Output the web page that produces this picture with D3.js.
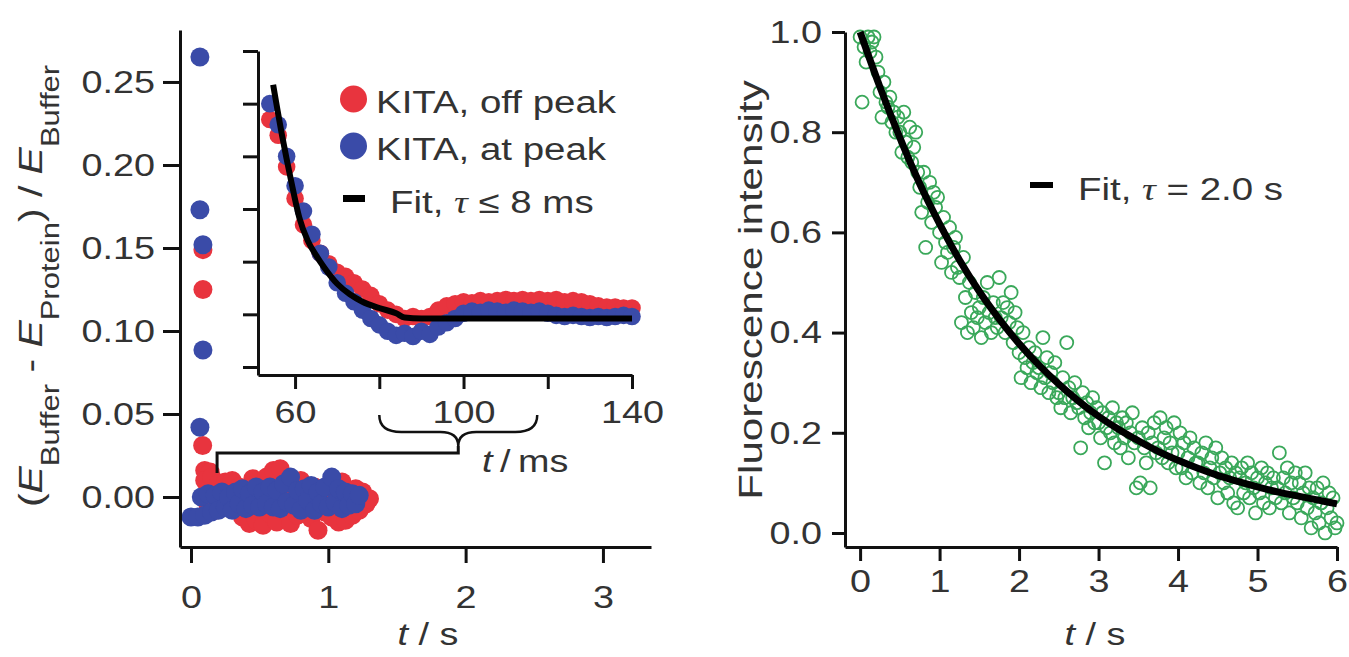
<!DOCTYPE html>
<html>
<head>
<meta charset="utf-8">
<script src="https://cdn.jsdelivr.net/npm/d3@7"></script>
<style>
body { margin: 0; background: #fff; }
svg { display: block; font-family: "Liberation Sans", Arial, sans-serif; }
.axis path, .axis line { stroke: #111; stroke-width: 3; }
.axis text { font-size: 32px; fill: #333; }
</style>
</head>
<body>
<div id="chart"></div>
<script>
// ---- left panel, main plot (t in s, relative change) ----
const mainTicksX = [0, 1, 2, 3];
const mainTicksY = [0, 0.05, 0.10, 0.15, 0.20, 0.25];

// KITA, off peak (red)
const offPeakMain = [
    [0.087, 0.149], [0.087, 0.125], [0.085, 0.031], [0.10, 0.016], [0.14, 0.015],
    [0.10, 0.010], [0.125, -0.005], [0.15, 0.012], [0.175, -0.008], [0.20, 0.008],
    [0.225, 0.004], [0.25, 0.009], [0.275, -0.006], [0.30, 0.010], [0.325, -0.004],
    [0.35, 0.006], [0.375, -0.012], [0.40, 0.003], [0.425, -0.016], [0.45, 0.011],
    [0.475, -0.014], [0.50, 0.004], [0.525, -0.017], [0.55, 0.012], [0.575, -0.010],
    [0.60, 0.016], [0.625, -0.015], [0.65, 0.017], [0.675, -0.006], [0.70, 0.008],
    [0.725, -0.016], [0.75, 0.005], [0.775, -0.011], [0.80, 0.010], [0.825, -0.008],
    [0.85, 0.003], [0.875, -0.013], [0.90, 0.006], [0.925, -0.020], [0.95, 0.002],
    [0.975, -0.009], [1.00, 0.007], [1.025, -0.012], [1.05, 0.004], [1.075, -0.015],
    [1.10, 0.009], [1.125, -0.014], [1.15, 0.002], [1.175, -0.011], [1.20, 0.005],
    [1.225, -0.008], [1.25, 0.003], [1.275, -0.004], [1.30, -0.001]
];

// KITA, at peak (blue)
const atPeakMain = [
    [0.065, 0.265], [0.065, 0.173], [0.087, 0.152], [0.087, 0.0886], [0.065, 0.042], [0.0, -0.012],
    [0.05, -0.012], [0.075, 0.000], [0.10, -0.011], [0.125, 0.002], [0.15, -0.009],
    [0.175, 0.001], [0.20, -0.008], [0.225, 0.003], [0.25, -0.006], [0.275, 0.000],
    [0.30, -0.008], [0.325, 0.003], [0.35, -0.004], [0.375, 0.005], [0.40, -0.007],
    [0.425, 0.002], [0.45, -0.005], [0.475, 0.006], [0.50, -0.006], [0.525, 0.003],
    [0.55, -0.004], [0.575, 0.006], [0.60, -0.006], [0.625, 0.004], [0.65, -0.007],
    [0.675, 0.008], [0.70, -0.003], [0.725, 0.012], [0.75, -0.005], [0.775, 0.004],
    [0.80, -0.008], [0.825, 0.005], [0.85, -0.002], [0.875, 0.007], [0.90, -0.008],
    [0.925, 0.003], [0.95, -0.004], [0.975, 0.006], [1.00, -0.006], [1.025, 0.012],
    [1.05, -0.003], [1.075, 0.005], [1.10, -0.007], [1.125, 0.003], [1.15, -0.005],
    [1.175, 0.002], [1.20, -0.004], [1.225, 0.001]
];

// ---- inset (t in ms) ----
const insetTicksX = [60, 80, 100, 120, 140];
const insetLabelsX = [60, 100, 140];
const insetTicksY = [-0.05, 0, 0.05, 0.10, 0.15, 0.20, 0.25];
const insetMs = d3.range(54, 141, 2);
const offPeakInset = [0.185, 0.170, 0.140, 0.110, 0.085, 0.070, 0.058, 0.048, 0.040, 0.036,
    0.030, 0.024, 0.018, 0.010, 0.004, 0.000, -0.004, -0.002, -0.004, -0.002,
    0.004, 0.008, 0.010, 0.012, 0.011, 0.013, 0.012, 0.013, 0.014, 0.013,
    0.014, 0.013, 0.014, 0.013, 0.014, 0.012, 0.013, 0.012, 0.010, 0.008,
    0.007, 0.007, 0.006, 0.006];
const atPeakInset = [0.200, 0.180, 0.150, 0.122, 0.098, 0.076, 0.058, 0.045, 0.030, 0.020,
    0.012, 0.004, -0.004, -0.010, -0.016, -0.020, -0.018, -0.021, -0.016, -0.019,
    -0.012, -0.008, -0.004, 0.001, 0.003, 0.002, 0.004, 0.003, 0.002, 0.004,
    0.003, 0.002, 0.003, 0.001, -0.001, -0.002, -0.001, -0.002, -0.003, -0.002,
    -0.003, -0.002, -0.001, -0.002];
const insetFitMs = [54.8, 57, 59, 61, 63, 65, 67, 70, 73, 76, 80, 84, 86, 90, 100, 110, 120, 130, 140];
const insetFitVal = [0.218, 0.168, 0.128, 0.092, 0.070, 0.056, 0.044, 0.029, 0.019, 0.012,
    0.006, 0.001, -0.003, -0.004, -0.004, -0.004, -0.004, -0.004, -0.004];

// ---- right panel ----
const rightTicksX = [0, 1, 2, 3, 4, 5, 6];
const rightTicksY = [0, 0.2, 0.4, 0.6, 0.8, 1.0];
const greenT = d3.range(0, 241).map(i => i * 0.025);
const greenVal = [
    0.99, 0.86, 0.97, 0.94, 0.99, 0.96, 0.98, 0.99, 0.95, 0.92,
    0.88, 0.83, 0.90, 0.86, 0.85, 0.87, 0.82, 0.84, 0.80, 0.83,
    0.80, 0.76, 0.84, 0.78, 0.75, 0.81, 0.74, 0.77, 0.80, 0.72,
    0.69, 0.64, 0.72, 0.57, 0.66, 0.70, 0.62, 0.68, 0.65, 0.67,
    0.60, 0.54, 0.63, 0.58, 0.56, 0.61, 0.52, 0.57, 0.59, 0.53,
    0.51, 0.42, 0.55, 0.47, 0.40, 0.50, 0.44, 0.41, 0.48, 0.43,
    0.45, 0.39, 0.47, 0.42, 0.50, 0.44, 0.40, 0.46, 0.43, 0.41,
    0.51, 0.43, 0.46, 0.40, 0.45, 0.42, 0.48, 0.38, 0.44, 0.41,
    0.36, 0.31, 0.40, 0.35, 0.33, 0.37, 0.30, 0.34, 0.36, 0.32,
    0.33, 0.29, 0.39, 0.31, 0.35, 0.28, 0.32, 0.30, 0.34, 0.27,
    0.28, 0.25, 0.31, 0.27, 0.38, 0.29, 0.24, 0.27, 0.30, 0.26,
    0.25, 0.17, 0.28, 0.23, 0.26, 0.21, 0.24, 0.27, 0.22, 0.25,
    0.22, 0.19, 0.24, 0.14, 0.21, 0.23, 0.20, 0.25, 0.18, 0.22,
    0.21, 0.17, 0.23, 0.19, 0.22, 0.15, 0.20, 0.24, 0.18, 0.09,
    0.19, 0.10, 0.21, 0.17, 0.14, 0.20, 0.09, 0.18, 0.22, 0.16,
    0.17, 0.23, 0.15, 0.19, 0.21, 0.14, 0.18, 0.16, 0.22, 0.13,
    0.16, 0.20, 0.13, 0.18, 0.11, 0.15, 0.19, 0.12, 0.17, 0.14,
    0.14, 0.10, 0.16, 0.12, 0.18, 0.09, 0.13, 0.15, 0.11, 0.17,
    0.07, 0.12, 0.15, 0.10, 0.13, 0.08, 0.11, 0.14, 0.06, 0.12,
    0.05, 0.11, 0.13, 0.08, 0.10, 0.14, 0.07, 0.12, 0.09, 0.04,
    0.11, 0.08, 0.13, 0.06, 0.10, 0.12, 0.05, 0.09, 0.11, 0.07,
    0.09, 0.16, 0.06, 0.11, 0.08, 0.13, 0.04, 0.10, 0.07, 0.12,
    0.06, 0.10, 0.03, 0.08, 0.12, 0.05, 0.09, 0.01, 0.07, 0.04,
    0.09, 0.02, 0.06, 0.10, 0.00, 0.05, 0.08, 0.03, 0.07, 0.01,
    0.02
];
const rightFitT = d3.range(0, 25).map(i => i * 0.25);
const rightFitVal = [1.0, 0.89, 0.789, 0.697, 0.617, 0.545, 0.482, 0.427, 0.378, 0.335,
    0.297, 0.263, 0.233, 0.207, 0.184, 0.163, 0.145, 0.129, 0.115, 0.103,
    0.092, 0.082, 0.074, 0.066, 0.058];

const RED = '#e8343e';
const BLUE = '#3a4ba8';
const GREEN = '#3aa85a';
const TEXT = '#333';

const svg = d3.select('#chart').append('svg')
    .attr('width', 1349)
    .attr('height', 657);

// stretch text a little wider, the original typeface is broad
function stretch(sel, k) {
    sel.each(function() {
        const w = this.getComputedTextLength();
        if (w > 0) {
            d3.select(this).attr('textLength', w * k).attr('lengthAdjust', 'spacingAndGlyphs');
        }
    });
}

function dots(data, x, y, r, color) {
    svg.append('g').selectAll('circle')
        .data(data)
        .enter()
        .append('circle')
        .attr('cx', d => x(d[0]))
        .attr('cy', d => y(d[1]))
        .attr('r', r)
        .attr('fill', color);
}

// ================= left main plot =================
const xMain = d3.scaleLinear().domain([-0.08, 3.35]).range([180, 651]);
const yMain = d3.scaleLinear().domain([-0.0301, 0.2813]).range([547, 30]);

dots(offPeakMain, xMain, yMain, 9.5, RED);
dots(atPeakMain, xMain, yMain, 9.5, BLUE);

svg.append('g').attr('class', 'axis')
    .attr('transform', 'translate(180,0)')
    .call(d3.axisLeft(yMain).tickValues(mainTicksY).tickFormat(d3.format('.2f'))
        .tickSize(17).tickSizeOuter(0).tickPadding(8));

svg.append('g').attr('class', 'axis')
    .attr('transform', 'translate(0,547)')
    .call(d3.axisBottom(xMain).tickValues(mainTicksX).tickFormat(d3.format('d'))
        .tickSize(16).tickSizeOuter(0).tickPadding(22));

// ================= inset =================
const xIn = d3.scaleLinear().domain([51.2, 140]).range([258, 632]);
const yIn = d3.scaleLinear().domain([-0.0576, 0.25]).range([375, 51]);

dots(insetMs.map((t, i) => [t, offPeakInset[i]]), xIn, yIn, 8.8, RED);
dots(insetMs.map((t, i) => [t, atPeakInset[i]]), xIn, yIn, 8.8, BLUE);

svg.append('path')
    .datum(insetFitMs.map((t, i) => [t, insetFitVal[i]]))
    .attr('fill', 'none')
    .attr('stroke', '#000')
    .attr('stroke-width', 6)
    .attr('d', d3.line().x(d => xIn(d[0])).y(d => yIn(d[1])).curve(d3.curveMonotoneX));

svg.append('g').attr('class', 'axis')
    .attr('transform', 'translate(258,0)')
    .call(d3.axisLeft(yIn).tickValues(insetTicksY).tickFormat('')
        .tickSize(15).tickSizeOuter(0));

svg.append('g').attr('class', 'axis')
    .attr('transform', 'translate(0,375)')
    .call(d3.axisBottom(xIn).tickValues(insetTicksX)
        .tickFormat(d => insetLabelsX.includes(d) ? d : '')
        .tickSize(14).tickSizeOuter(0).tickPadding(11));

// brace linking the inset to the main trace
const braceA = xIn(80), braceB = xIn(117.5), braceM = (braceA + braceB) / 2;
svg.append('path')
    .attr('fill', 'none').attr('stroke', '#111').attr('stroke-width', 2.5)
    .attr('d', `M${braceA},415 Q${braceA},432 ${braceA + 22},432 L${braceM - 18},432
        Q${braceM},432 ${braceM},446 Q${braceM},432 ${braceM + 18},432
        L${braceB - 22},432 Q${braceB},432 ${braceB},415`);
svg.append('path')
    .attr('fill', 'none').attr('stroke', '#111').attr('stroke-width', 3)
    .attr('d', `M${braceM},446 L${braceM},${yMain(0.0265)} L${xMain(0.19)},${yMain(0.0265)} L${xMain(0.19)},${yMain(0.0145)}`);

const tms = svg.append('text').attr('x', 482).attr('y', 472)
    .attr('font-size', 32).attr('fill', TEXT);
tms.append('tspan').attr('font-style', 'italic').text('t');
tms.append('tspan').text('\u2009/\u2009ms');

// inset legend
const legend = [
    { label: 'KITA, off peak', color: RED, y: 99 },
    { label: 'KITA, at peak', color: BLUE, y: 146 }
];
legend.forEach(l => {
    svg.append('circle').attr('cx', 353.5).attr('cy', l.y).attr('r', 13.5).attr('fill', l.color);
    svg.append('text').attr('class', 'wide').attr('x', 376).attr('y', l.y + 14)
        .attr('font-size', 31).attr('fill', TEXT).text(l.label);
});
svg.append('line').attr('x1', 343).attr('x2', 365).attr('y1', 198.5).attr('y2', 198.5)
    .attr('stroke', '#000').attr('stroke-width', 7);
const fitLeg = svg.append('text').attr('class', 'wide').attr('x', 390).attr('y', 213)
    .attr('font-size', 31).attr('fill', TEXT);
fitLeg.append('tspan').text('Fit, ');
fitLeg.append('tspan').attr('font-family', '"Liberation Serif", serif').attr('font-style', 'italic').text('\u03c4');
fitLeg.append('tspan').text(' \u2264 8 ms');

// left axis titles
const yLab = svg.append('text').attr('class', 'wide')
    .attr('transform', 'translate(42,286) rotate(-90)')
    .attr('text-anchor', 'middle')
    .attr('font-size', 33).attr('fill', TEXT);
yLab.append('tspan').text('(');
yLab.append('tspan').attr('font-style', 'italic').text('E');
yLab.append('tspan').attr('font-size', 25).attr('dy', 17).text('Buffer');
yLab.append('tspan').attr('dy', -17).text(' - ');
yLab.append('tspan').attr('font-style', 'italic').text('E');
yLab.append('tspan').attr('font-size', 25).attr('dy', 17).text('Protein');
yLab.append('tspan').attr('dy', -17).text(') / ');
yLab.append('tspan').attr('font-style', 'italic').text('E');
yLab.append('tspan').attr('font-size', 25).attr('dy', 17).text('Buffer');

const xLabL = svg.append('text').attr('x', 428).attr('y', 645)
    .attr('text-anchor', 'middle').attr('font-size', 32).attr('fill', TEXT);
xLabL.append('tspan').attr('font-style', 'italic').text('t');
xLabL.append('tspan').text(' / s');

// ================= right panel =================
const xR = d3.scaleLinear().domain([-0.19, 6]).range([845, 1337]);
const yR = d3.scaleLinear().domain([-0.028, 1.0]).range([547, 32]);

svg.append('g').selectAll('circle')
    .data(greenT.map((t, i) => [t, greenVal[i]]))
    .enter()
    .append('circle')
    .attr('cx', d => xR(d[0]))
    .attr('cy', d => yR(d[1]))
    .attr('r', 6.5)
    .attr('fill', 'none')
    .attr('stroke', GREEN)
    .attr('stroke-width', 1.8);

svg.append('path')
    .datum(rightFitT.map((t, i) => [t, rightFitVal[i]]))
    .attr('fill', 'none')
    .attr('stroke', '#000')
    .attr('stroke-width', 7)
    .attr('d', d3.line().x(d => xR(d[0])).y(d => yR(d[1])).curve(d3.curveMonotoneX));

svg.append('g').attr('class', 'axis')
    .attr('transform', 'translate(845,0)')
    .call(d3.axisLeft(yR).tickValues(rightTicksY).tickFormat(d3.format('.1f'))
        .tickSize(13).tickSizeOuter(0).tickPadding(10));

svg.append('g').attr('class', 'axis')
    .attr('transform', 'translate(0,547)')
    .call(d3.axisBottom(xR).tickValues(rightTicksX).tickFormat(d3.format('d'))
        .tickSize(14).tickSizeOuter(0).tickPadding(8));

svg.append('line').attr('x1', 1030).attr('x2', 1053).attr('y1', 185).attr('y2', 185)
    .attr('stroke', '#000').attr('stroke-width', 6);
const fitR = svg.append('text').attr('class', 'wide').attr('x', 1078).attr('y', 200)
    .attr('font-size', 31).attr('fill', TEXT);
fitR.append('tspan').text('Fit, ');
fitR.append('tspan').attr('font-family', '"Liberation Serif", serif').attr('font-style', 'italic').text('\u03c4');
fitR.append('tspan').text(' = 2.0 s');

svg.append('text').attr('class', 'wide')
    .attr('transform', 'translate(762,290) rotate(-90)')
    .attr('text-anchor', 'middle')
    .attr('font-size', 34).attr('fill', TEXT)
    .text('Fluorescence intensity');

const xLabR = svg.append('text').attr('x', 1095).attr('y', 645)
    .attr('text-anchor', 'middle').attr('font-size', 32).attr('fill', TEXT);
xLabR.append('tspan').attr('font-style', 'italic').text('t');
xLabR.append('tspan').text(' / s');

stretch(svg.selectAll('text:not(.wide)'), 1.18);
stretch(svg.selectAll('text.wide'), 1.24);
</script>
</body>
</html>
